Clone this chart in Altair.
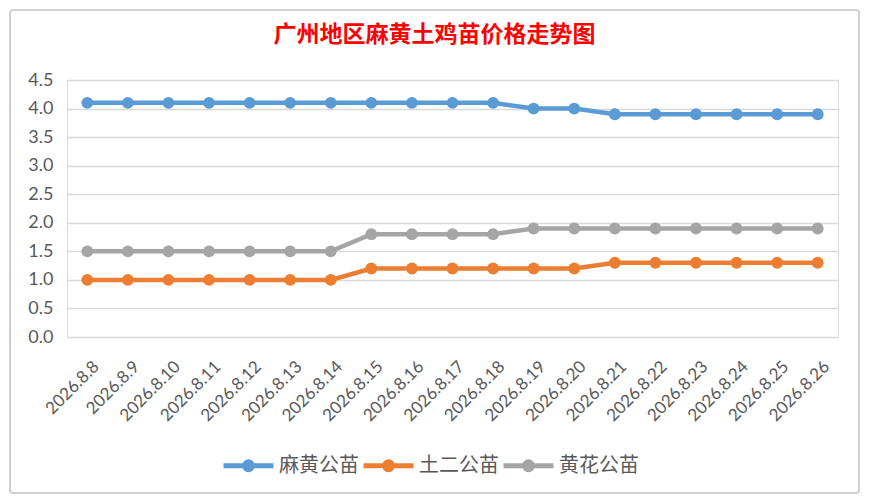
import altair as alt
import pandas as pd

dates = ["2026.8.8", "2026.8.9", "2026.8.10", "2026.8.11", "2026.8.12", "2026.8.13",
         "2026.8.14", "2026.8.15", "2026.8.16", "2026.8.17", "2026.8.18", "2026.8.19",
         "2026.8.20", "2026.8.21", "2026.8.22", "2026.8.23", "2026.8.24", "2026.8.25",
         "2026.8.26"]
mahuang = [4.1, 4.1, 4.1, 4.1, 4.1, 4.1, 4.1, 4.1, 4.1, 4.1, 4.1, 4.0, 4.0, 3.9, 3.9, 3.9, 3.9, 3.9, 3.9]
tuer = [1.0, 1.0, 1.0, 1.0, 1.0, 1.0, 1.0, 1.2, 1.2, 1.2, 1.2, 1.2, 1.2, 1.3, 1.3, 1.3, 1.3, 1.3, 1.3]
huanghua = [1.5, 1.5, 1.5, 1.5, 1.5, 1.5, 1.5, 1.8, 1.8, 1.8, 1.8, 1.9, 1.9, 1.9, 1.9, 1.9, 1.9, 1.9, 1.9]
series_names = ["麻黄公苗", "土二公苗", "黄花公苗"]
series_colors = ["#5B9BD5", "#ED7D31", "#A5A5A5"]
y_ticks = [0, 0.5, 1.0, 1.5, 2.0, 2.5, 3.0, 3.5, 4.0, 4.5]

rows = []
for name, vals in zip(series_names, [mahuang, tuer, huanghua]):
    for d, v in zip(dates, vals):
        rows.append({"date": d, "series": name, "price": v})
df = pd.DataFrame(rows)

label_font = "Lato"
cjk_font = "Noto Sans CJK SC"

legend_path = "M-1,0H1M-0.16,0A0.16,0.16,0,1,1,0.16,0A0.16,0.16,0,1,1,-0.16,0Z"

x_enc = alt.X("date:N", sort=dates, title=None,
              scale=alt.Scale(type="point", padding=0.5),
              axis=alt.Axis(labelAngle=-45, labelAlign="right", labelBaseline="top",
                            labelPadding=21, labelOffset=3, ticks=False, domain=False,
                            grid=False, labelFont=label_font, labelFontSize=17,
                            labelColor="#595959"))
y_enc = alt.Y("price:Q", title=None,
              scale=alt.Scale(domain=[0, 4.5], nice=False),
              axis=alt.Axis(values=y_ticks, format=".1f", ticks=False, domain=False,
                            grid=True, gridColor="#D9D9D9", gridWidth=1.5,
                            labelFont=label_font, labelFontSize=18, labelColor="#595959",
                            labelPadding=14))
color_enc = alt.Color("series:N", sort=series_names, title=None,
                      scale=alt.Scale(domain=series_names, range=series_colors),
                      legend=alt.Legend(orient="none", legendX=154, legendY=358,
                                        direction="horizontal",
                                        symbolType=legend_path, symbolSize=2500,
                                        symbolStrokeWidth=5, labelFont=cjk_font,
                                        labelFontSize=20, labelColor="#595959",
                                        labelOffset=3, columnPadding=-6,
                                        symbolOpacity=1))

base = alt.Chart(df)
lines = base.mark_line(strokeWidth=4.5).encode(x=x_enc, y=y_enc, color=color_enc)
points = base.mark_point(filled=True, size=140, opacity=1).encode(x=x_enc, y=y_enc, color=color_enc)

frame = alt.Chart(pd.DataFrame({"a": [0]})).mark_rect(
    fill="white", fillOpacity=0, stroke="#D0D0D0", strokeWidth=2, cornerRadius=3
).encode(x=alt.value(-57), x2=alt.value(792), y=alt.value(-70), y2=alt.value(413))

chart = alt.layer(frame, lines, points).properties(
    width=771, height=257,
    padding={"left": 59, "top": 72, "right": 23, "bottom": 158},
    autosize=alt.AutoSizeParams(type="none"),
    title=alt.TitleParams("广州地区麻黄土鸡苗价格走势图", color="#FF0000", font=cjk_font,
                          fontSize=23, fontWeight="bold", anchor="middle", dx=-18,
                          offset=-38, frame="group"),
).configure_view(stroke=None).configure(background="white")

chart.save("out.html", embed_options={"renderer": "svg", "actions": False})
